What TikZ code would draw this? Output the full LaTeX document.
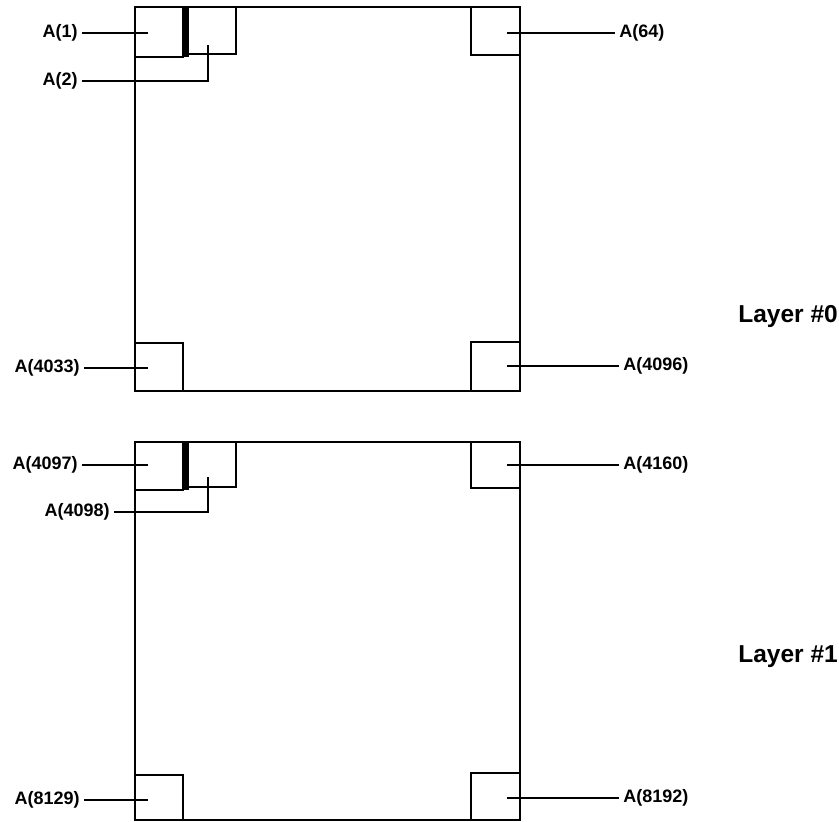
\documentclass[tikz,border=0pt]{standalone}
\usepackage{fontspec}
\setmainfont{Liberation Sans}
\usetikzlibrary{positioning}

\tikzset{
  addr/.style={font=\bfseries\fontsize{18}{20}\selectfont, inner sep=3pt},
  layer/.style={font=\bfseries\fontsize{24.5}{28}\selectfont, inner sep=0pt, anchor=base west},
  bar/.style={line width=6pt}
}

\begin{document}
\begin{tikzpicture}[x=1pt, y=-1pt, line width=2.8pt]
  \useasboundingbox (0,0) rectangle (839,822);

  % Layer #0
  \draw (135,7) rectangle (520,391);
  \draw (135,7) rectangle (183,57);
  \draw[bar] (185.5,7) -- (185.5,57);
  \draw (188,7) rectangle (236,54);
  \draw (471,7) rectangle (520,55);
  \draw (135,343) rectangle (183,391);
  \draw (471,342) rectangle (520,391);
  \node[layer] (l0) at (737,322) {Layer \#0};

  \node[addr, anchor=east] (a1) at (82,33) {A(1)};
  \node[addr, anchor=east] (a2) at (82,81) {A(2)};
  \node[addr, anchor=west] (a64) at (615,33) {A(64)};
  \node[addr, anchor=east] (a4033) at (84,368) {A(4033)};
  \node[addr, anchor=west] (a4096) at (619,366) {A(4096)};
  \coordinate (p1) at (148,33);
  \coordinate (p2) at (208,45);
  \coordinate (p64) at (507,33);
  \coordinate (p4033) at (148,368);
  \coordinate (p4096) at (507,366);
  \draw (a1) -- (p1);
  \draw (a2) -| (p2);
  \draw (p64) -- (a64);
  \draw (a4033) -- (p4033);
  \draw (p4096) -- (a4096);

  % Layer #1
  \draw (135,442) rectangle (520,820);
  \draw (135,442) rectangle (183,490);
  \draw[bar] (185.5,442) -- (185.5,490);
  \draw (188,442) rectangle (236,487);
  \draw (471,442) rectangle (520,488);
  \draw (135,775) rectangle (183,820);
  \draw (471,773) rectangle (520,820);
  \node[layer] (l1) at (737,662) {Layer \#1};

  \node[addr, anchor=east] (a4097) at (82,465) {A(4097)};
  \node[addr, anchor=east] (a4098) at (114,512) {A(4098)};
  \node[addr, anchor=west] (a4160) at (619,465) {A(4160)};
  \node[addr, anchor=east] (a8129) at (84,800) {A(8129)};
  \node[addr, anchor=west] (a8192) at (619,798) {A(8192)};
  \coordinate (p4097) at (148,465);
  \coordinate (p4098) at (208,477);
  \coordinate (p4160) at (507,465);
  \coordinate (p8129) at (148,800);
  \coordinate (p8192) at (507,798);
  \draw (a4097) -- (p4097);
  \draw (a4098) -| (p4098);
  \draw (p4160) -- (a4160);
  \draw (a8129) -- (p8129);
  \draw (p8192) -- (a8192);
\end{tikzpicture}
\end{document}
